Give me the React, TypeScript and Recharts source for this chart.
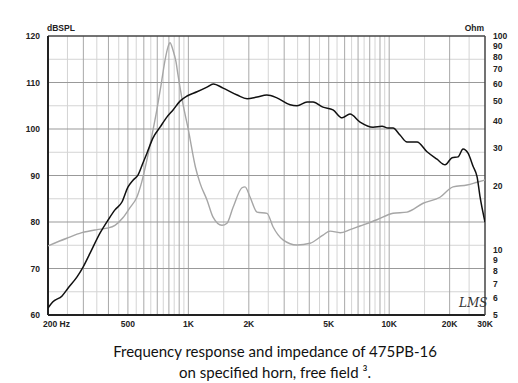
import React from "react";
import { LineChart, Line, XAxis, YAxis, ReferenceLine } from "recharts";

// SPL curve (black)
const splFreq = [200, 211, 235, 252, 279, 299, 324, 363, 398, 431, 467, 500, 530, 561, 594, 622, 667, 723, 783, 839, 909, 985, 1104, 1238, 1330, 1490, 1750, 1960, 2200, 2460, 2760, 3210, 3480, 3900, 4180, 4680, 5250, 5830, 6380, 7160, 8310, 9210, 9870, 10450, 11320, 12270, 13760, 15430, 17300, 18970, 20560, 22030, 23320, 24700, 26160, 27400, 28350, 30000];
const splDb = [61.5, 62.8, 64.1, 65.8, 68.2, 70.3, 73.3, 77.6, 80.4, 82.6, 84.3, 87.5, 89, 90.1, 92.7, 94.8, 98.1, 100.4, 102.6, 104.1, 106, 107.1, 108, 109, 109.7, 108.8, 107.3, 106.5, 106.9, 107.3, 106.7, 105.2, 105, 105.8, 105.8, 104.7, 104.1, 102.4, 103.2, 101.5, 100.4, 100.6, 100.2, 100.2, 98.7, 97.2, 97.2, 95.1, 93.5, 92.3, 93.8, 94, 95.7, 94.8, 92, 89.7, 85.4, 80];

// impedance curve (gray)
const impFreq = [200, 248, 295, 351, 393, 431, 472, 511, 555, 587, 622, 659, 696, 731, 765, 792, 810, 838, 868, 888, 932, 1000, 1084, 1143, 1238, 1327, 1470, 1557, 1670, 1849, 1915, 2026, 2197, 2464, 2639, 2960, 3476, 4036, 4684, 5080, 5700, 6384, 7160, 8690, 10450, 12270, 14760, 17900, 20800, 24400, 27400, 30000];
const impOhm = [10.5, 11.4, 12.1, 12.5, 12.7, 13.1, 14.2, 15.8, 17.8, 21, 26.5, 34.5, 45, 59, 77, 89, 93, 86, 75.7, 65.8, 50.2, 36.5, 24.5, 20.6, 17.2, 14.3, 13.1, 13.4, 15.9, 19.6, 19.8, 17.8, 15.1, 14.9, 12.9, 11.2, 10.6, 10.8, 11.8, 12.3, 12.1, 12.5, 13, 13.9, 14.9, 15.1, 16.6, 17.7, 19.8, 20.2, 20.8, 21.3];

const xTicks = [200, 500, 1000, 2000, 5000, 10000, 20000, 30000];
const splTicks = [60, 70, 80, 90, 100, 110, 120];
const ohmTicks = [5, 6, 7, 8, 9, 10, 20, 30, 40, 50, 60, 70, 80, 90, 100];

const freqMajor = [300, 400, 500, 600, 700, 800, 900, 1000, 2000, 3000, 4000, 5000, 6000, 7000, 8000, 9000, 10000, 20000];
const freqMinor = [250, 350, 450, 550, 650, 750, 850, 950, 1500, 2500, 3500, 4500, 5500, 6500, 7500, 8500, 9500, 15000, 25000];
const dbMajor = [70, 80, 90, 100, 110];
const dbMinor = [65, 75, 85, 95, 105, 115];

const splData = splFreq.map((f, i) => ({ f, spl: splDb[i] }));
const impData = impFreq.map((f, i) => ({ f, ohm: impOhm[i] }));

const tickFont = { fontFamily: "Liberation Sans, Arial, sans-serif", fontSize: 8.5, fontWeight: 700, fill: "#222" };

const XTick = (props: any) => {
  const { x, y, payload } = props;
  const v = payload.value;
  const label = v === 200 ? "200 Hz" : v >= 1000 ? v / 1000 + "K" : String(v);
  return (
    <text x={v === 200 ? x - 5 : x} y={y + 4} textAnchor={v === 200 ? "start" : "middle"} {...tickFont}>
      {label}
    </text>
  );
};

export default function App() {
  return (
    <div style={{ position: "absolute", left: 0, top: 0, width: 518, height: 383, background: "#fff" }}>
      <LineChart width={518} height={335} margin={{ top: 36, right: 0, bottom: 0, left: 0 }}>
        <XAxis dataKey="f" type="number" scale="log" domain={[200, 30000]} ticks={xTicks} allowDataOverflow
          axisLine={false} tickLine={false} height={20} tick={<XTick />} interval={0} />
        <YAxis yAxisId="spl" type="number" domain={[60, 120]} ticks={splTicks} width={48} interval={0}
          axisLine={false} tickLine={false} tickMargin={2} tick={tickFont} allowDataOverflow />
        <YAxis yAxisId="ohm" orientation="right" type="number" scale="log" domain={[5, 100]} ticks={ohmTicks} width={33} interval={0}
          axisLine={false} tickLine={false} tickMargin={2} tick={{ ...tickFont, textAnchor: "start" }} allowDataOverflow />

        {dbMinor.map((v) => <ReferenceLine key={"hm" + v} yAxisId="spl" y={v} stroke="#d4d4d4" strokeWidth={1} />)}
        {freqMinor.map((v) => <ReferenceLine key={"vm" + v} yAxisId="spl" x={v} stroke="#d4d4d4" strokeWidth={1} />)}
        {freqMajor.map((v) => <ReferenceLine key={"vM" + v} yAxisId="spl" x={v} stroke="#a8a8a8" strokeWidth={1} />)}
        {dbMajor.map((v) => <ReferenceLine key={"hM" + v} yAxisId="spl" y={v} stroke="#999" strokeWidth={1} />)}

        <ReferenceLine yAxisId="spl" y={120} stroke="#444" strokeWidth={1.5} />
        <ReferenceLine yAxisId="spl" y={60} stroke="#222" strokeWidth={2} />
        <ReferenceLine yAxisId="spl" x={200} stroke="#222" strokeWidth={2} />
        <ReferenceLine yAxisId="spl" x={30000} stroke="#444" strokeWidth={1.5} />

        <Line data={impData} yAxisId="ohm" dataKey="ohm" type="monotone" stroke="#a6a6a6" strokeWidth={1.4} dot={false} isAnimationActive={false} />
        <Line data={splData} yAxisId="spl" dataKey="spl" type="monotone" stroke="#111" strokeWidth={1.5} dot={false} isAnimationActive={false} />
      </LineChart>
      <svg style={{ position: "absolute", left: 0, top: 0 }} width={518} height={335}>
        <text x={47} y={31} {...tickFont}>dBSPL</text>
        <text x={484} y={31} textAnchor="end" {...tickFont}>Ohm</text>
        <text x={459} y={307} fontFamily="DejaVu Serif, serif" fontStyle="italic" fontSize={12} fill="#333">LMS</text>
      </svg>
      <div style={{ position: "absolute", left: 0, top: 341, width: 550, textAlign: "center", fontFamily: "Lato, 'Open Sans', sans-serif", fontSize: 15, lineHeight: "21px", color: "#111" }}>
        Frequency response and impedance of 475PB-16
        <br />
        on specified horn, free field ³.
      </div>
    </div>
  );
}
